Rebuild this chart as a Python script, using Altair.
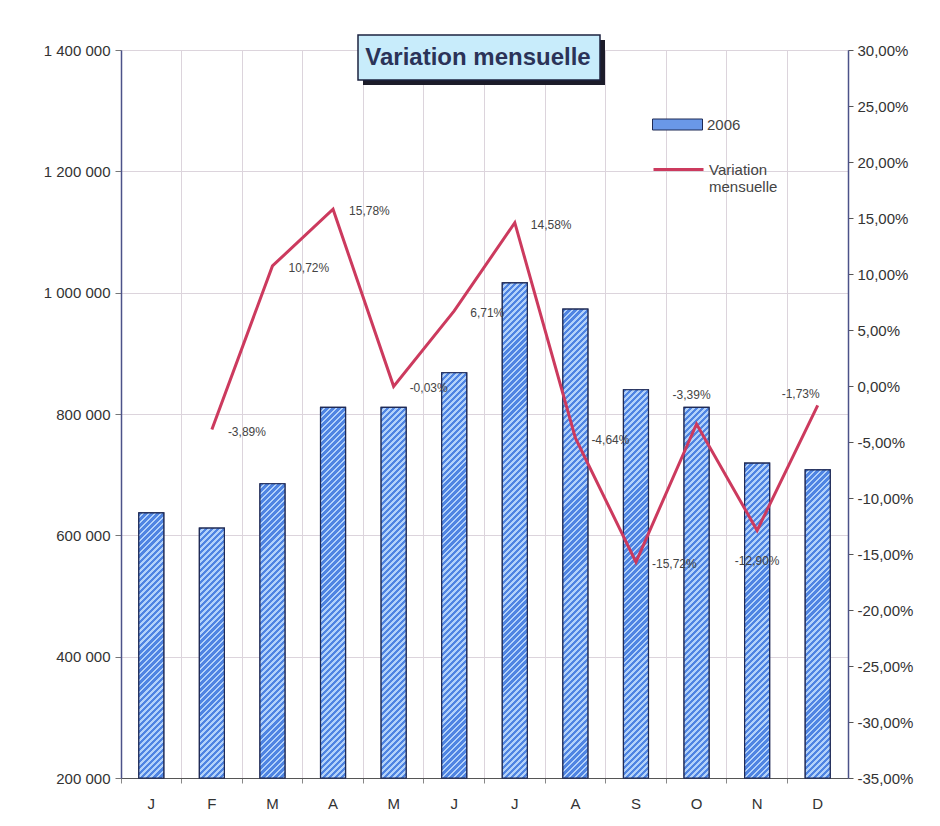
import altair as alt
import pandas as pd

# ---------------- données ----------------
mois = ["Janvier", "Février", "Mars", "Avril", "Mai", "Juin", "Juillet",
        "Août", "Septembre", "Octobre", "Novembre", "Décembre"]
ventes_2006 = [637000, 612000, 685000, 811000, 811000, 868000,
               1016000, 973000, 840000, 811000, 719000, 708000]
variation_pct = [None, -3.89, 10.72, 15.78, -0.03, 6.71,
                 14.58, -4.64, -15.72, -3.39, -12.90, -1.73]
position_etiquette = [None, "droite", "droite", "droite", "droite", "droite",
                      "droite", "droite", "droite", "dessus", "dessous", "haut-gauche"]
ticks_gauche = [200000, 400000, 600000, 800000, 1000000, 1200000, 1400000]
ticks_droite = [round(p / 100, 2) for p in range(-35, 31, 5)]
titre = ["Variation mensuelle"]
serie_barres = "2006"
serie_ligne = "Variation mensuelle"

# ---------------- mise en forme ----------------
FONT = "Liberation Sans"
W_PLOT, H_PLOT = 727, 728
Y_MIN, Y_MAX = 200000, 1400000
V_MIN, V_MAX = -0.35, 0.30
BAR_W = 25
BLEU, CLAIR = "#4f84e2", "#b3d2fa"
CONTOUR = "#1f2a55"
ROUGE = "#cc3a5e"
GRILLE = "#dcd4dc"
PERIODE = 6.0

df = pd.DataFrame({
    "mois": mois,
    "ventes": ventes_2006,
    "variation": [None if v is None else v / 100 for v in variation_pct],
    "position": position_etiquette,
    "serie": serie_barres,
    "serie_ligne": serie_ligne,
})
df_titre = pd.DataFrame({"titre": titre})


def hachures(valeur):
    h = (valeur - Y_MIN) / (Y_MAX - Y_MIN) * H_PLOT
    w = BAR_W
    a = (w + h) / (w * w + h * h)
    n = max(1, round((w + h) / PERIODE))
    stops = []
    for k in range(n):
        t0, t1, t2 = k / n, (k + 0.55) / n, (k + 1) / n
        stops += [
            alt.GradientStop(color=BLEU, offset=t0),
            alt.GradientStop(color=BLEU, offset=t1),
            alt.GradientStop(color=CLAIR, offset=t1),
            alt.GradientStop(color=CLAIR, offset=t2),
        ]
    return alt.LinearGradient(gradient="linear", stops=stops,
                              x1=0, y1=0, x2=a * w, y2=a * h)


x_axis = alt.Axis(title=None, bandPosition=0,
                  labelExpr="substring(datum.label, 0, 1)", labelAngle=0,
                  grid=True, gridColor=GRILLE, domainColor="#555555",
                  tickColor="#888888", tickSize=5, labelPadding=13,
                  labelFontSize=15, labelColor="#333333", labelFont=FONT)
x_enc = alt.X("mois:N", scale=alt.Scale(domain=mois, paddingInner=0, paddingOuter=0),
              axis=x_axis)

y_axis = alt.Axis(title=None, values=ticks_gauche, format=",d", grid=True,
                  gridColor=GRILLE, domainColor="#4b5289", domainWidth=1.5,
                  tickColor="#777777", tickSize=6, labelPadding=5,
                  labelFontSize=15, labelColor="#333333", labelFont=FONT)
y_scale = alt.Scale(domain=[Y_MIN, Y_MAX], nice=False, zero=False)
y_enc = alt.Y("ventes:Q", scale=y_scale, axis=y_axis)

y2_axis = alt.Axis(title=None, orient="right", values=ticks_droite, format=".2%",
                   grid=False, domainColor="#4b5289", domainWidth=1.5,
                   tickColor="#555555", tickSize=5, labelPadding=4,
                   labelFontSize=15, labelColor="#333333", labelFont=FONT)
v_scale = alt.Scale(domain=[V_MIN, V_MAX], nice=False, zero=False)
v_enc = alt.Y("variation:Q", scale=v_scale, axis=y2_axis)

legende_barres = alt.Legend(title=None, orient="none", legendX=546, legendY=64,
                            symbolType="M-2.5,-0.55H2.5V0.55H-2.5Z", symbolSize=400,
                            symbolStrokeColor=CONTOUR, symbolStrokeWidth=1,
                            labelOffset=19, labelFontSize=15, labelColor="#444444",
                            labelFont=FONT, padding=0)
legende_ligne = alt.Legend(title=None, orient="none", legendX=546, legendY=108,
                           symbolType="M-2.5,0H2.5", symbolSize=400,
                           symbolStrokeWidth=3, labelOffset=19, labelFontSize=15,
                           labelColor="#444444", labelFont=FONT, padding=0,
                           labelBaseline="middle",
                           labelExpr="datum.label == 'Variation mensuelle' ? ['Variation', 'mensuelle'] : datum.label")

# ---------------- barres ----------------
base = alt.Chart(df).mark_bar(size=BAR_W, stroke=CONTOUR, strokeWidth=1.2).encode(
    x=x_enc, y=y_enc, y2=alt.datum(Y_MIN),
    fill=alt.Fill("serie:N", scale=alt.Scale(domain=[serie_barres], range=["#6a98e8"]),
                  legend=legende_barres),
)
couches_barres = [base]
for m, v in zip(mois, ventes_2006):
    couches_barres.append(
        alt.Chart(df).transform_filter(alt.datum.mois == m)
        .mark_bar(size=BAR_W, fill=hachures(v), stroke=CONTOUR, strokeWidth=1.2)
        .encode(x=x_enc, y=y_enc, y2=alt.datum(Y_MIN))
    )
barres = alt.layer(*couches_barres)

# ---------------- ligne + étiquettes ----------------
ligne = alt.Chart(df).mark_line(strokeWidth=3).encode(
    x=x_enc, y=v_enc,
    stroke=alt.Stroke("serie_ligne:N",
                      scale=alt.Scale(domain=[serie_ligne], range=[ROUGE]),
                      legend=legende_ligne),
)


def etiquettes(pos, align, dx, dy):
    return (alt.Chart(df).transform_filter(alt.datum.position == pos)
            .mark_text(align=align, baseline="middle", dx=dx, dy=dy, fontSize=12,
                       color="#444444", font=FONT)
            .encode(x=x_enc, y=v_enc, text=alt.Text("variation:Q", format=".2%")))


texte_droite = etiquettes("droite", "left", 16, 2)
texte_dessus = etiquettes("dessus", "center", -5, -29)
texte_dessous = etiquettes("dessous", "center", 0, 31)
texte_hg = etiquettes("haut-gauche", "center", -17, -11)

ombre = alt.Chart(df_titre).mark_rect(fill="#1c1c2a").encode(
    x=alt.value(242), x2=alt.value(484), y=alt.value(-10), y2=alt.value(35))
cadre = alt.Chart(df_titre).mark_rect(fill="#c8ecfb", stroke="#1d2340", strokeWidth=1.5).encode(
    x=alt.value(237), x2=alt.value(479), y=alt.value(-15), y2=alt.value(30))
texte_titre = alt.Chart(df_titre).mark_text(
    fontSize=24, fontWeight="bold", color="#2b3358", font=FONT, baseline="middle"
).encode(x=alt.value(357), y=alt.value(8), text="titre:N")

courbe = alt.layer(ligne, texte_droite, texte_dessus, texte_dessous, texte_hg,
                   ombre, cadre, texte_titre)

chart = (
    alt.layer(barres, courbe)
    .resolve_scale(y="independent")
    .properties(width=W_PLOT, height=H_PLOT,
                padding={"left": 113, "top": 42, "right": 84, "bottom": 40},
                autosize=alt.AutoSizeParams(type="none"),
                background="white")
    .configure(font=FONT,
               locale=alt.Locale(number=alt.NumberLocale(
                   decimal=",", thousands=" ", grouping=[3],
                   currency=["", " €"], minus="-")))
    .configure_view(stroke="#8a90c0", strokeWidth=1)
)

chart.save("out.html", embed_options={"renderer": "svg", "actions": False})
